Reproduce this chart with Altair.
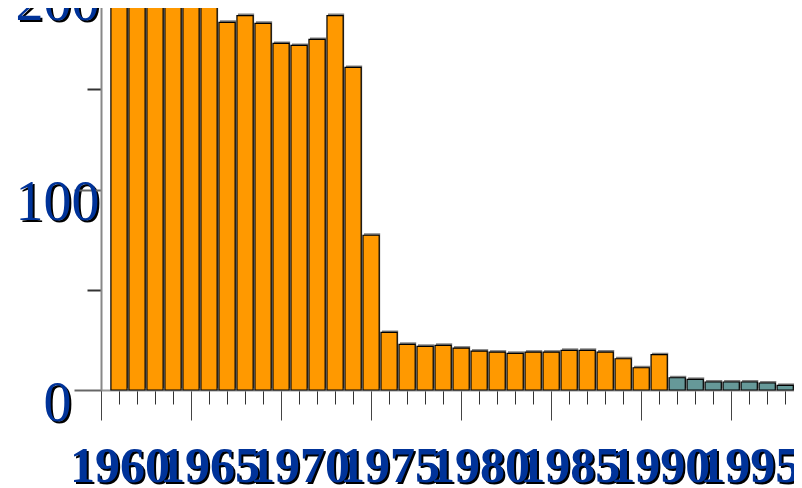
import altair as alt
import pandas as pd

years = list(range(1961, 1999))
values = [232, 226, 220, 212, 203, 193.5, 183.4, 186.8, 182.9, 172.9,
          171.9, 174.9, 186.8, 160.9, 77.2, 28.7, 22.8, 21.8, 22.3, 20.9,
          19.4, 18.9, 18.3, 18.9, 18.9, 19.8, 19.8, 18.9, 15.6, 11.1,
          17.6, 6.1, 5.3, 4.0, 4.0, 4.0, 3.5, 2.3]
groups = ["A"] * 31 + ["B"] * 7
group_colors = ["#FF9900", "#669999"]
major_years = [1960, 1965, 1970, 1975, 1980, 1985, 1990, 1995]
minor_years = list(range(1960, 1999))
y_major = [0, 100, 200]
y_minor = [50, 150]

df = pd.DataFrame({"year": years, "value": values, "group": groups})

BLUE = "#003399"
FONT = "Liberation Serif"
xscale = alt.Scale(domain=[1960, 1998.6], nice=False, zero=False)
yscale = alt.Scale(domain=[0, 220], nice=False)

base = alt.Chart(df).transform_calculate(
    x0="datum.year - 0.45", x1="datum.year + 0.45"
)

def xax(**kw):
    d = dict(orient="bottom", grid=False, title=None, labels=False, ticks=False,
             domain=False, format="d")
    d.update(kw)
    return alt.Axis(**d)

def yax(**kw):
    d = dict(orient="left", grid=False, title=None, labels=False, ticks=False,
             domain=False)
    d.update(kw)
    return alt.Axis(**d)

def axis_layer(xa, ya):
    return base.mark_point(opacity=0).encode(
        x=alt.X("year:Q", scale=xscale, axis=xa),
        y=alt.Y("value:Q", scale=yscale, axis=ya),
    )

XFS = 50

# shadow labels (black, offset)
shadow_layer = axis_layer(
    xax(values=major_years, labels=True, ticks=True, tickSize=30, tickOpacity=0,
        labelColor="black", labelFont=FONT, labelFontSize=XFS, labelFontWeight="bold",
        labelOffset=20.5, labelPadding=23.5, labelBaseline="top", labelAlign="center",
        labelOverlap=False, labelFlush=False),
    yax(values=y_major, labels=True, ticks=True, tickSize=27, tickOpacity=0,
        labelColor="black", labelFont=FONT, labelFontSize=56,
        labelAlign="center", labelBaseline="middle", labelPadding=15,
        labelOffset=15, labelOverlap=False, labelFlush=False),
)

minor_layer = axis_layer(
    xax(values=minor_years, ticks=True, tickSize=14, tickColor="#333", tickWidth=1),
    yax(values=y_minor, ticks=True, tickSize=14, tickColor="#333", tickWidth=2),
)

major_layer = axis_layer(
    xax(values=major_years, labels=True, ticks=True, tickSize=30, tickColor="#444",
        tickWidth=1, domain=True, domainColor="#999", domainWidth=2,
        labelColor=BLUE, labelFont=FONT, labelFontSize=XFS, labelFontWeight="bold",
        labelOffset=18.5, labelPadding=21.5, labelBaseline="top", labelAlign="center",
        labelOverlap=False, labelFlush=False),
    yax(values=y_major, labels=True, ticks=True, tickSize=27, tickColor="#666",
        tickWidth=2, domain=True, domainColor="#888", domainWidth=2,
        labelColor=BLUE, labelFont=FONT, labelFontSize=56,
        labelAlign="center", labelBaseline="middle", labelPadding=17,
        labelOffset=13, labelOverlap=False, labelFlush=False),
)

bar_shadow = base.mark_rect(color="#808080", xOffset=1, x2Offset=1,
                            yOffset=-2, y2Offset=-2).encode(
    x=alt.X("x0:Q", scale=xscale, axis=None),
    x2="x1:Q",
    y=alt.Y("value:Q", scale=yscale, axis=None),
    y2=alt.datum(0),
)

bars = base.mark_rect(stroke="black", strokeWidth=1.2).encode(
    x=alt.X("x0:Q", scale=xscale, axis=None),
    x2="x1:Q",
    y=alt.Y("value:Q", scale=yscale, axis=None),
    y2=alt.datum(0),
    color=alt.Color("group:N", scale=alt.Scale(domain=["A", "B"], range=group_colors),
                    legend=None),
)

chart = alt.layer(shadow_layer, minor_layer, major_layer, bar_shadow, bars).resolve_axis(
    x="independent", y="independent"
).properties(
    width=695,
    height=441,
    autosize=alt.AutoSizeParams(type="none"),
    padding={"top": -59, "left": 93, "right": -2, "bottom": 110},
).configure_view(stroke=None)

chart.save("out.html", embed_options={"renderer": "svg", "actions": False})
